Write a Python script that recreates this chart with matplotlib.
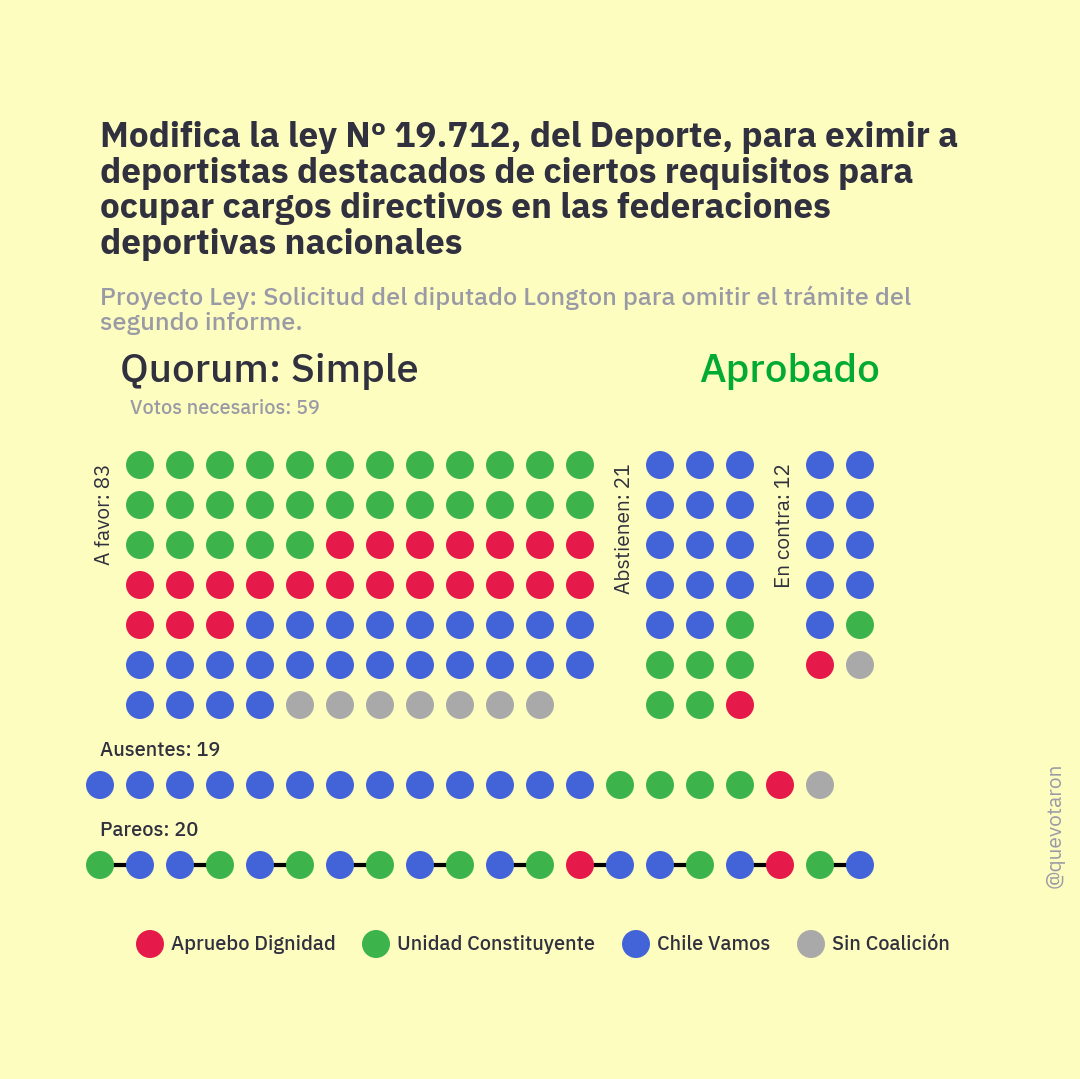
import matplotlib
matplotlib.use("Agg")
import matplotlib.pyplot as plt

# coalition colours
COLORS = {
    "AD": "#e6194b",
    "UC": "#3cb44b",
    "CV": "#4363d8",
    "SC": "#a9a9a9",
}
LEGEND_KEYS = ["AD", "UC", "CV", "SC"]
LEGEND_LABELS = ["Apruebo Dignidad", "Unidad Constituyente", "Chile Vamos", "Sin Coalición"]

# votes per group, in drawing order
a_favor = ["UC"] * 29 + ["AD"] * 22 + ["CV"] * 25 + ["SC"] * 7
abstienen = ["CV"] * 14 + ["UC"] * 6 + ["AD"] * 1
en_contra = ["CV"] * 9 + ["UC"] * 1 + ["AD"] * 1 + ["SC"] * 1
ausentes = ["CV"] * 13 + ["UC"] * 4 + ["AD"] * 1 + ["SC"] * 1
pareos = ["UC", "CV", "CV", "UC", "CV", "UC", "CV", "UC", "CV", "UC",
          "CV", "UC", "AD", "CV", "CV", "UC", "CV", "AD", "UC", "CV"]

TITLE = ("Modifica la ley Nº 19.712, del Deporte, para eximir a\n"
         "deportistas destacados de ciertos requisitos para\n"
         "ocupar cargos directivos en las federaciones\n"
         "deportivas nacionales")
SUBTITLE = ("Proyecto Ley: Solicitud del diputado Longton para omitir el trámite del\n"
            "segundo informe.")

BG = "#fdfdc0"
DARK = "#30303f"
GRAY = "#9a9aa6"
STEP = 40
DOT = (28 * 0.72) ** 2

# the plain family only ships weight 400; the Hebrew cut has the same latin glyphs in all weights
plt.rcParams["font.family"] = ["IBM Plex Sans Hebrew", "IBM Plex Sans", "DejaVu Sans"]

fig = plt.figure(figsize=(10.8, 10.79), dpi=100, facecolor=BG)
ax = fig.add_axes([0, 0, 1, 1])
ax.set_xlim(0, 1080)
ax.set_ylim(1079, 0)
ax.axis("off")
ax.set_facecolor(BG)


def grid(votes, x0, y0, ncols):
    xs = [x0 + (i % ncols) * STEP for i in range(len(votes))]
    ys = [y0 + (i // ncols) * STEP for i in range(len(votes))]
    ax.scatter(xs, ys, s=DOT, c=[COLORS[v] for v in votes], linewidths=0, zorder=3)
    return xs, ys


grid(a_favor, 140, 465, 12)
grid(abstienen, 660, 465, 3)
grid(en_contra, 820, 465, 2)
grid(ausentes, 100, 785, 19)
px, py = grid(pareos, 100, 865, 20)
for i in range(0, len(pareos), 2):
    ax.plot([px[i], px[i + 1]], [py[i], py[i + 1]], color="black", lw=3, zorder=2)

# texts
ax.text(100, 121, TITLE, fontsize=25.3, fontweight="bold", color=DARK,
        va="top", ha="left", linespacing=1.1)
ax.text(100, 286, SUBTITLE, fontsize=18.2, fontweight="medium", color=GRAY,
        va="top", ha="left", linespacing=1.07)
ax.text(120, 372, "Quorum: Simple", fontsize=29, fontweight="medium", color=DARK,
        va="center", ha="left")
ax.text(880, 372, "Aprobado", fontsize=29, fontweight="medium", color="#00aa33",
        va="center", ha="right")
ax.text(130, 409, "Votos necesarios: 59", fontsize=14.3, fontweight="medium", color=GRAY,
        va="center", ha="left")

for x, lab in [(105, "A favor: 83"), (625, "Abstienen: 21"), (785, "En contra: 12")]:
    ax.text(x, 463, lab, fontsize=15, color=DARK, rotation=90, va="top", ha="center")
ax.text(100, 751, "Ausentes: 19", fontsize=14.4, fontweight="medium", color=DARK,
        va="center", ha="left")
ax.text(100, 831, "Pareos: 20", fontsize=14.4, fontweight="medium", color=DARK,
        va="center", ha="left")
ax.text(1055, 825, "@quevotaron", fontsize=15, color=GRAY, rotation=90,
        va="center", ha="center")

# legend
leg_x = [150, 376, 636, 811]
ax.scatter(leg_x, [944] * 4, s=DOT, c=[COLORS[k] for k in LEGEND_KEYS],
           linewidths=0, zorder=3)
for x, lab in zip(leg_x, LEGEND_LABELS):
    ax.text(x + 21, 944, lab, fontsize=14.4, fontweight="medium", color=DARK,
            va="center", ha="left")

fig.savefig("out.png", dpi=100, facecolor=BG)
